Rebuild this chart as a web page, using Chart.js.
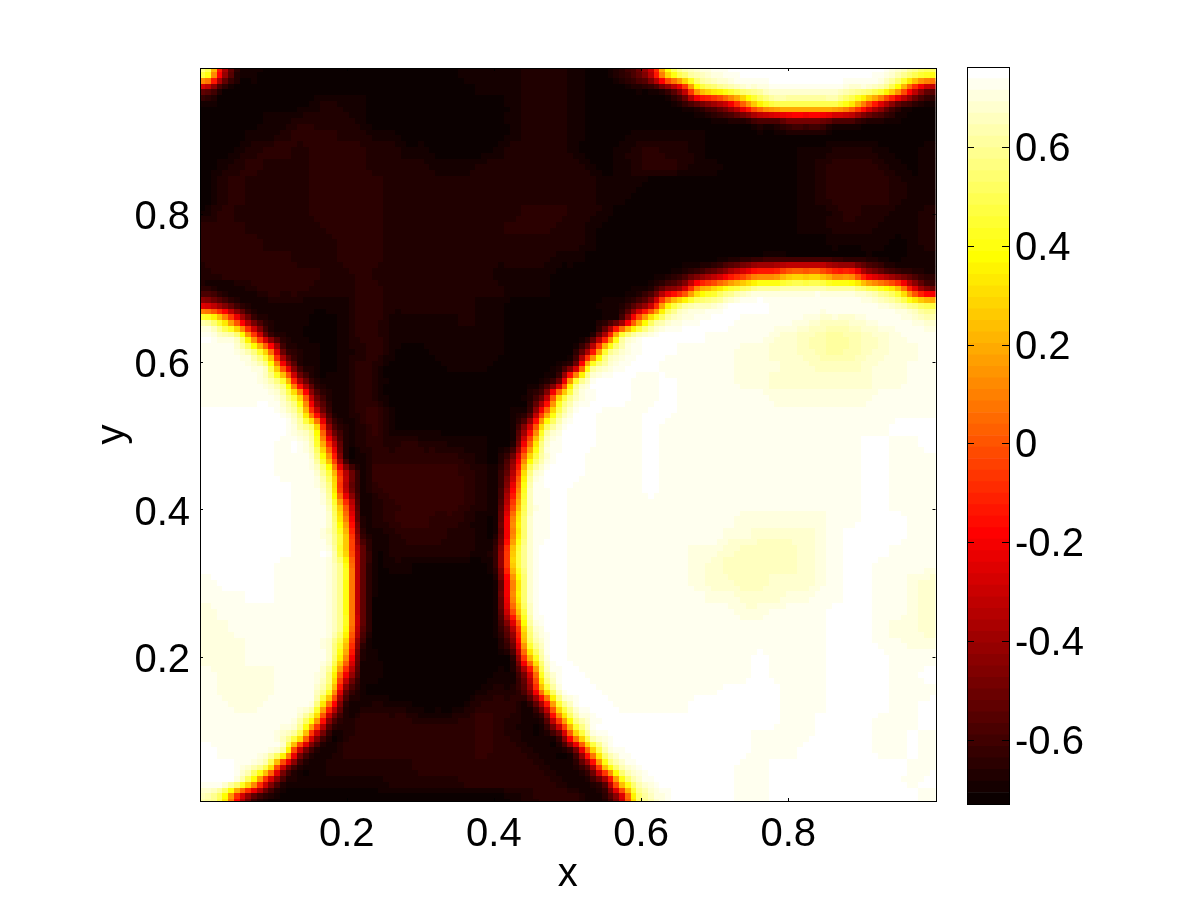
<!DOCTYPE html>
<html><head><meta charset="utf-8">
<style>html,body{margin:0;padding:0;background:#fff;width:1201px;height:901px;overflow:hidden}
canvas{position:absolute;top:0}
#main{left:0}#bar{left:930px}</style>
<script src="https://cdn.jsdelivr.net/npm/chart.js@4/dist/chart.umd.min.js"></script>
</head><body>
<canvas id="main" width="960" height="901" style="width:960px;height:901px"></canvas>
<canvas id="bar" width="271" height="901" style="width:271px;height:901px"></canvas>
<script>
const xTicks=[0.2,0.4,0.6,0.8];
const yTicks=[0.2,0.4,0.6,0.8];
const barTicks=[-0.6,-0.4,-0.2,0,0.2,0.4,0.6];
const colourMin=-0.73, colourMax=0.762, colourSteps=64;
// value of each letter a..v used in the rows below
const zLevels=[-0.718,-0.695,-0.672,-0.648,-0.625,-0.55,-0.45,-0.3,-0.15,0,0.15,0.3,0.45,0.55,0.6,0.61,0.633,0.657,0.68,0.703,0.727,0.75];
// 48 x 48 cells, top row first
const zRows=[
"mhcbaaaa aaaaaaaa abbbbccc baadfhln rtuvvvvv vvvvurnm",
"gcaaaaaa aaaaaaaa aabbbccc baaabcfh lmnqrttt ttrqnlig",
"baaaaaab cbbaaaaa aaaabccc baaaaaac fghjlmmm mmljhfdb",
"aaaabbcc ccbaaaaa aaaabccc baaaaaaa abcdffgg gffdcbaa",
"aaabbcdd dccbbaaa aaaabccc baaabbbb baaaaabb baaaaaaa",
"aabcddcd dddccbba aaabcccc baabcdcc baaaaaab bcccbaab",
"abcdcccd dddccccb bbcccccc cbabcddc bbaaaaab cdddcbab",
"acdccccd ddddcccc cccccccc ccbbbaaa aaaaaaab cddddcbb",
"acdccccd ddddcccc cccccccc ccbbaaaa aaaaaaab cddddcbb",
"bdcccccd ddddcccc cccccddd ccbaaaaa aaaaaaab bcdccbbc",
"dddccccc ddddcccc ccccdddc cbaaaaaa aaaaaaab bcccbbbc",
"ddddcccc cdddcccc cccccccc cbaaaaaa aaaaaaaa abbbbabc",
"ddddddcc cdddcccc cccccccb baaaaaaa aabcdeee edccbabb",
"cddddddd ccdccccc cccbbbba aaaaaabd fghijjkk kjjhgfec",
"dbbcdddc ccddcccc ccccbbba aaaabdgh klmnqqrr rqqnmlig",
"hgebbbbb bbddcccc ccbbaaaa aabcfhln qruvvuuu uuuutrnm",
"nlifcbba abddbbbb bcbbaaaa aacfjmqt uvvuuuut ssstuutr",
"urnjfcba abddbbbb bbbbaaaa abhmruvv vuuuutsr qpqrstuu",
"uutnkfcb abcdbaab bbbbaaaa chmruvvu uuuttssr qpqrsttu",
"uuutnieb abdcaaaa bbbaaaac gmruvvuu uuutttss rrrsttuu",
"uuuurmhd bbdcaaaa aaaaaacg mtvvuuvu uuuttsss ssssttuu",
"uuuuuqlg cbdcaaaa aaaaacgl quvvuuvu uuuuuttt ttttuuuu",
"vvvvvtni ebdebaaa aaaabejn uvuuuvvu uuuuuuuu uuuuuuuu",
"vvvvvvrm gccebaaa aaaachmt vvuuuvuu uuuuuuuu uuuuuvvv",
"vvvvvuun idcdcdcc bbbadjqu vvuuuvuu uuuuuuuu uuuvvuuv",
"vvvvvuur kebddddd dcbbglrv vuuuuvuu uuuuuuuu uuuvvuuu",
"vvvvvuut mhceeeee edcchnuv vuuuuvuu uuuuuuuu uuuvvuuu",
"vvvvvvuu nhcdeeee edcciquv uuuuuvuu uuuuuuuu uuuvvuuu",
"vvvvvvuu qjdcdeee edcdjquv uuuuuuuu uuuuuuuu uuuvvuuu",
"vvvvvvuu rkecdeed dcbekruv uuuuuuuu uuuttttt tuuvvvuu",
"vvvvvvuu rlfbcddd ccbekruv uuuuuuuu uuttssss tuvvvvuu",
"vvvvvvuu tlgbcccc ccbflrvv uuuuuuuu ttsrrrrs tuvvvuuu",
"vvvvvuuu tmgbbbaa aaaflrvv uuuuuuuu tsrrrrrs tuvvuuuu",
"uvvvvuuu tmgbaaaa aaaekrvv uuuuuuuu tssrrsss tuvvuuts",
"uuuvvuuu tmgaaaaa aaaekrvv uuuuuuuu uttssstt uuvvuuts",
"tuuuuuuu tmgaaaaa aaadjqvv uuuuuuuu uuuttuuu uvvvuuts",
"ttuuuuuu tmgaaaaa aaachnuv uuuuuuuu uuuuuuuu uvvvutts",
"tttuuuuu rlfaaaaa aaabgmtv uuuuuuuu uuuuuuuu uvvvuutt",
"tttuuuuu rkebaaaa aaaaekrv uuuuuuuu uuuuvuuu uvvvvuuu",
"uttttuuu nidbaaaa aaabchnu vuuuuuuu uuuuvuuu uvvvvuuv",
"uttttuut mgcaaaaa aabccglt vvuuuuuu uuvvvvuu uvvvvuuu",
"uuttuuuq jebcbbaa abdddchm tvvuuuuu vvvvvvuu uvvvvuuv",
"uuuuuurl gcddddcc cdedcbej ntvvvvvv vvvvvvuu vvvvuuuv",
"uuuuurmh ccdddddd ddedcbbf kquvvvvv vvvvuuuu vvvvuuvu",
"vuuutnhd bddddddd ddeddcbb fkquvvvv vvvvuuuv vvvvuuvu",
"vvurmhdb ccccccdd ddddddcb cglquvvv vvvuuvvv vvvvvvuu",
"vvqlhdbb bbbbcccc cddddddc bcglquvv vvvuuvvv vvvvvvuv",
"qmifcaaa aaaaaaaa aaaabcdd dbdhmruv vvvuuvvv vvvvvvvu"
];
const grid=zRows.map(r=>r.replace(/ /g,'').split('').map(c=>zLevels[c.charCodeAt(0)-97]));
const N=grid.length;
const cells=[];
grid.forEach((row,j)=>row.forEach((v,i)=>cells.push({x:(i+.5)/N,y:(N-j-.5)/N,v})));

function hotIndex(v){return Math.max(0,Math.min(colourSteps-1,Math.floor((v-colourMin)/(colourMax-colourMin)*colourSteps)));}
function hot(i){const t=i+1,n=colourSteps;const nr=3*n/8;
  const r=Math.min(1,t/nr),g=Math.max(0,Math.min(1,(t-nr)/nr)),b=Math.max(0,(t-2*nr)/(n-2*nr));
  return [Math.round(r*255),Math.round(g*255),Math.round(b*255)];}
const css=c=>`rgb(${c[0]},${c[1]},${c[2]})`;

// cubic shading between the cell centres: rendering only, the data stay the cells above
function cub(p0,p1,p2,p3,t){return p1+.5*t*(p2-p0+t*(2*p0-5*p1+4*p2-p3+t*(3*(p1-p2)+p3-p0)));}
const at=(i,j)=>grid[Math.max(0,Math.min(N-1,j))][Math.max(0,Math.min(N-1,i))];
function sample(x,y){
  const fx=x*N-.5,fy=(1-y)*N-.5,i=Math.floor(fx),j=Math.floor(fy),a=fx-i,b=fy-j;
  const rows=[-1,0,1,2].map(d=>cub(at(i-1,j+d),at(i,j+d),at(i+1,j+d),at(i+2,j+d),a));
  return cub(rows[0],rows[1],rows[2],rows[3],b);
}
const shade={id:'shade',afterDatasetsDraw(ch){
  const sx=ch.scales.x,sy=ch.scales.y,a=ch.chartArea,M=128;
  const off=document.createElement('canvas');off.width=M;off.height=M;
  const o=off.getContext('2d'),img=o.createImageData(M,M);
  for(let j=0;j<M;j++)for(let i=0;i<M;i++){
    const c=hot(hotIndex(sample((i+.5)/M,1-(j+.5)/M)));const p=4*(j*M+i);
    img.data[p]=c[0];img.data[p+1]=c[1];img.data[p+2]=c[2];img.data[p+3]=255;}
  o.putImageData(img,0,0);
  const c=ch.ctx;c.save();c.beginPath();c.rect(a.left,a.top,a.width,a.height);c.clip();c.imageSmoothingEnabled=false;
  const x0=sx.getPixelForValue(0),x1=sx.getPixelForValue(1),y0=sy.getPixelForValue(1),y1=sy.getPixelForValue(0);
  c.drawImage(off,x0,y0,x1-x0,y1-y0);c.restore();
}};
function frame(len,both){return {id:'frame',afterDraw(ch){
  const c=ch.ctx,a=ch.chartArea;c.save();c.strokeStyle='#000';c.lineWidth=1;
  c.strokeRect(Math.round(a.left)+.5,Math.round(a.top)+.5,Math.round(a.width),Math.round(a.height));
  c.beginPath();
  const sy=ch.scales.y;sy.ticks.forEach(t=>{const p=Math.round(sy.getPixelForValue(t.value))+.5;
    c.moveTo(a.left,p);c.lineTo(a.left+len,p);c.moveTo(a.right,p);c.lineTo(a.right-len,p);});
  if(both){const sx=ch.scales.x;sx.ticks.forEach(t=>{const p=Math.round(sx.getPixelForValue(t.value))+.5;
    c.moveTo(p,a.bottom);c.lineTo(p,a.bottom-len);c.moveTo(p,a.top);c.lineTo(p,a.top+len);});}
  c.stroke();c.restore();}};}
const FONT={family:'"Liberation Sans",Arial,sans-serif',size:40};
const fmt=v=>String(v);
new Chart(document.getElementById('main'),{
  type:'scatter',
  data:{datasets:[{data:cells,pointStyle:'rect',pointRadius:11,pointHoverRadius:11,borderWidth:0,
    backgroundColor:c=>css(hot(hotIndex(c.raw?c.raw.v:0)))}]},
  options:{responsive:false,animation:false,events:[],
    layout:{padding:{left:0,right:24.5,top:68,bottom:0}},
    plugins:{legend:{display:false},tooltip:{enabled:false}},
    scales:{
      x:{type:'linear',min:0.0007,max:1.0,grid:{display:false},border:{display:false},
        afterBuildTicks:s=>{s.ticks=xTicks.map(value=>({value}));},
        afterFit:s=>{s.height=100;s.paddingLeft=0;s.paddingRight=0;},
        ticks:{font:FONT,color:'#000',padding:2,maxRotation:0,callback:fmt},
        title:{display:true,text:'x',font:FONT,color:'#000',padding:{top:0,bottom:2}}},
      y:{type:'linear',min:0.0054,max:0.9976,grid:{display:false},border:{display:false},
        afterBuildTicks:s=>{s.ticks=yTicks.map(value=>({value}));},
        afterFit:s=>{s.width=200;s.paddingTop=0;s.paddingBottom=0;},
        ticks:{font:FONT,color:'#000',padding:2,labelOffset:4,callback:fmt},
        title:{display:true,text:'y',font:FONT,color:'#000',padding:{top:89,bottom:0}}}
    }},
  plugins:[shade,frame(3,true)]
});
const step=(colourMax-colourMin)/colourSteps;
const barBins=Array.from({length:colourSteps},(_,i)=>[colourMin+i*step,colourMin+(i+1)*step]);
new Chart(document.getElementById('bar'),{
  type:'bar',
  data:{labels:[''],datasets:barBins.map((b,i)=>({data:[b],backgroundColor:css(hot(i)),borderWidth:0,grouped:false,barPercentage:1,categoryPercentage:1,borderSkipped:false}))},
  options:{responsive:false,animation:false,events:[],
    layout:{padding:{left:37,right:0,top:67,bottom:97}},
    plugins:{legend:{display:false},tooltip:{enabled:false}},
    scales:{
      x:{display:false},
      y:{type:'linear',position:'right',min:colourMin,max:colourMax,grid:{display:false},border:{display:false},
        afterBuildTicks:s=>{s.ticks=barTicks.map(value=>({value}));},
        afterFit:s=>{s.width=192;s.paddingTop=0;s.paddingBottom=0;},
        ticks:{font:FONT,color:'#000',padding:-2,labelOffset:3,callback:fmt}}
    }},
  plugins:[frame(7,false)]
});
</script>
</body></html>
